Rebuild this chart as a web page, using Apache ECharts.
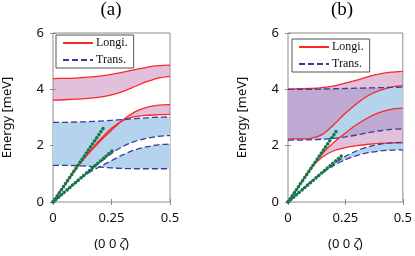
<!DOCTYPE html>
<html><head><meta charset="utf-8">
<script src="https://cdn.jsdelivr.net/npm/echarts@6/dist/echarts.min.js"></script>
<style>html,body{margin:0;padding:0;background:#fff}#c{width:415px;height:256px}</style>
</head><body><div id="c"></div>
<script>
// ---- data ----
const q = [0,0.05,0.1,0.15,0.2,0.25,0.3,0.35,0.4,0.45,0.5];
const xTicks = ['0','0.25','0.5'];
const yTicks = ['0','2','4','6'];
// panel (a)
const aLongTopUpper = [4.38,4.39,4.40,4.43,4.47,4.53,4.61,4.70,4.78,4.84,4.86];
const aLongTopLower = [3.62,3.63,3.65,3.68,3.72,3.80,3.93,4.10,4.27,4.40,4.46];
const aLongA = [0,0.61,1.20,1.72,2.20,2.62,2.90,3.03,3.08,3.10,3.11];
const aLongB = [0,0.61,1.20,1.70,2.15,2.55,2.92,3.20,3.36,3.44,3.46];
const aTransTop = [2.83,2.83,2.84,2.85,2.87,2.90,2.93,2.96,2.99,3.01,3.02];
const aTransBot = [1.30,1.30,1.29,1.27,1.24,1.21,1.19,1.18,1.18,1.18,1.18];
const aTransInA = [0,0.36,0.72,1.05,1.40,1.72,1.98,2.15,2.26,2.33,2.36];
const aTransInB = [0,0.36,0.72,1.03,1.25,1.47,1.68,1.85,1.96,2.03,2.06];
const aGreenSteepQ = [0,0.222], aGreenSteepE = [0,2.71];
const aGreenShallowQ = [0,0.255], aGreenShallowE = [0,1.83];
// panel (b)
const bLongTop = [4.01,4.02,4.03,4.06,4.12,4.22,4.33,4.45,4.55,4.61,4.64];
const bLong2 = [2.24,2.24,2.26,2.40,2.75,3.15,3.50,3.78,3.96,4.08,4.13];
const bLong3 = [0,0.60,1.20,1.72,2.12,2.45,2.75,3.00,3.18,3.29,3.33];
const bLong4 = [0,0.60,1.20,1.60,1.82,1.93,2.00,2.05,2.08,2.10,2.10];
const bTrans1 = [4.00,4.00,4.00,4.01,4.02,4.03,4.04,4.05,4.06,4.07,4.08];
const bTrans2 = [2.20,2.20,2.21,2.23,2.26,2.31,2.38,2.46,2.53,2.58,2.60];
const bTrans3 = [0,0.36,0.72,1.06,1.36,1.62,1.82,1.96,2.05,2.10,2.12];
const bTrans4 = [0,0.36,0.72,1.04,1.30,1.50,1.65,1.75,1.81,1.84,1.85];
const bGreenSteepQ = [0,0.2175], bGreenSteepE = [0,2.60];
const bGreenShallowQ = [0,0.239], bGreenShallowE = [0,1.68];

// ---- styles ----
const RED = '#ff2626', BLUE = '#3a3a9c', GREEN = '#17774a';
const BLUEFILL = 'rgb(181,211,236)', PINKFILL = 'rgba(197,127,181,0.5)';
const SM = 0.3;
const pairs = (xs, ys) => xs.map((x,i)=>[x, ys[i]]);

// same bezier construction as ECharts line smoothing, so fills meet the lines
function smoothSeg(pts, first) {
  let d = '';
  const n = pts.length;
  let cp0 = pts[0];
  d += (first ? 'M' : 'L') + pts[0][0] + ' ' + pts[0][1];
  for (let i = 1; i < n; i++) {
    const p = pts[i];
    let cp1 = p, nextCp0 = p;
    if (i < n - 1) {
      const pr = pts[i-1], nx = pts[i+1];
      const vx = nx[0]-pr[0], vy = nx[1]-pr[1];
      const l0 = Math.hypot(p[0]-pr[0], p[1]-pr[1]);
      const l1 = Math.hypot(nx[0]-p[0], nx[1]-p[1]);
      const r = (l0 + l1) > 0 ? l1 / (l0 + l1) : 0.5;
      nextCp0 = [p[0] + vx*SM*r, p[1] + vy*SM*r];
      cp1 = [p[0] - vx*SM*(1-r), p[1] - vy*SM*(1-r)];
    }
    d += ' C' + cp0[0] + ' ' + cp0[1] + ' ' + cp1[0] + ' ' + cp1[1] + ' ' + p[0] + ' ' + p[1];
    cp0 = nextCp0;
  }
  return d;
}
function band(p, lower, upper, color, z) {
  return {type:'custom', name:'_band', xAxisIndex:p*2, yAxisIndex:p*2, z:z, silent:true, animation:false,
    data:[[q[0], upper[0]]], clip:true,
    renderItem: function(params, api) {
      const U = q.map((x,i)=>api.coord([x, upper[i]]));
      const L = q.map((x,i)=>api.coord([x, lower[i]])).reverse();
      const d = smoothSeg(U, true) + ' ' + smoothSeg(L, false) + ' Z';
      return {type:'path', shape:{pathData:d}, style:{fill:color, stroke:null}};
    }};
}
function curve(p, ys, kind) {
  const s = {type:'line', xAxisIndex:p*2, yAxisIndex:p*2, symbol:'none', smooth:SM, z:5, animation:false, data:pairs(q, ys)};
  if (kind === 'L') { s.name = 'Longi.'; s.color = RED; s.lineStyle = {color:RED, width:1.3}; }
  else { s.name = 'Trans.'; s.color = BLUE; s.lineStyle = {color:BLUE, width:1.3, type:[6,3]}; }
  return s;
}
function green(p, xs, ys) {
  return {type:'line', name:'_g', xAxisIndex:p*2, yAxisIndex:p*2, symbol:'none', z:8, animation:false,
    data:pairs(xs, ys), lineStyle:{color:GREEN, width:3.4, type:[0.1,3.6], cap:'round'}};
}

const series = [
  // panel a
  band(0, aTransBot, aTransTop, BLUEFILL, 1),
  band(0, aTransInB, aTransInA, '#ffffff', 2),
  band(0, aLongTopLower, aLongTopUpper, PINKFILL, 3),
  band(0, aLongA, aLongB, PINKFILL, 3),
  curve(0, aLongTopUpper,'L'), curve(0, aLongTopLower,'L'), curve(0, aLongA,'L'), curve(0, aLongB,'L'),
  curve(0, aTransTop,'T'), curve(0, aTransBot,'T'), curve(0, aTransInA,'T'), curve(0, aTransInB,'T'),
  green(0, aGreenSteepQ, aGreenSteepE), green(0, aGreenShallowQ, aGreenShallowE),
  // panel b
  band(1, bTrans2, bTrans1, BLUEFILL, 1),
  band(1, bTrans4, bTrans3, BLUEFILL, 1),
  band(1, bLong2, bLongTop, PINKFILL, 3),
  band(1, bLong4, bLong3, PINKFILL, 3),
  curve(1, bLongTop,'L'), curve(1, bLong2,'L'), curve(1, bLong3,'L'), curve(1, bLong4,'L'),
  curve(1, bTrans1,'T'), curve(1, bTrans2,'T'), curve(1, bTrans3,'T'), curve(1, bTrans4,'T'),
  green(1, bGreenSteepQ, bGreenSteepE), green(1, bGreenShallowQ, bGreenShallowE)
];

const AX = '#8c8c8c';
const LBL = {fontFamily:'Noto Sans', fontSize:13, color:'#111'};
function xAx(g, main) {
  return {type:'value', gridIndex:g, min:0, max:0.5, interval:0.25, position: main?'bottom':'top',
    axisLine:{show:false}, splitLine:{show:false},
    axisTick:{show:true, inside:true, length:3, lineStyle:{color:AX}},
    axisLabel:{show:main, margin:10, formatter:v=>xTicks[Math.round(v/0.25)], ...LBL},
    name: main ? '(0 0 {i|\u03B6})' : '', nameLocation:'middle', nameGap:36,
    nameTextStyle:{fontFamily:'Noto Sans', fontSize:13, color:'#111',
      rich:{i:{fontFamily:'Noto Sans', fontStyle:'italic', fontSize:13, color:'#111'}}}};
}
function yAx(g, main) {
  return {type:'value', gridIndex:g, min:0, max:6, interval:2, position: main?'left':'right',
    axisLine:{show:false}, splitLine:{show:false},
    axisTick:{show:true, inside:true, length:3, lineStyle:{color:AX}},
    axisLabel:{show:main, margin:9, formatter:v=>yTicks[Math.round(v/2)], ...LBL},
    name: main ? 'Energy [meV]' : '', nameLocation:'middle', nameGap:39,
    nameTextStyle:{fontFamily:'Noto Sans', fontSize:13, color:'#111'}};
}
const legendCommon = {orient:'vertical', data:['Longi.','Trans.'], itemWidth:30, itemHeight:12, itemGap:5,
  padding:[2,6,2,6], borderColor:'#555', borderWidth:1, backgroundColor:'#fff', selectedMode:false,
  itemStyle:{opacity:0},
  textStyle:{fontFamily:'Liberation Serif', fontSize:12, color:'#111', padding:[0,0,0,-2]}};

const chart = echarts.init(document.getElementById('c'), null, {renderer:'canvas'});
chart.setOption({
  animation:false,
  grid:[
    {left:53, top:33, width:117, height:174, show:true, borderColor:AX, borderWidth:1, backgroundColor:'transparent'},
    {left:288, top:33, width:116, height:174, show:true, borderColor:AX, borderWidth:1, backgroundColor:'transparent'}
  ],
  xAxis:[xAx(0,true), xAx(0,false), xAx(1,true), xAx(1,false)],
  yAxis:[yAx(0,true), yAx(0,false), yAx(1,true), yAx(1,false)],
  legend:[Object.assign({left:56, top:35, z:20}, legendCommon), Object.assign({left:292, top:39, z:20}, legendCommon)],
  graphic:[
    {type:'text', x:111, y:1, style:{text:'(a)', align:'center', fontFamily:'Liberation Serif', fontSize:19, fill:'#000'}},
    {type:'text', x:342, y:1, style:{text:'(b)', align:'center', fontFamily:'Liberation Serif', fontSize:19, fill:'#000'}}
  ],
  series: series
});
</script></body></html>
